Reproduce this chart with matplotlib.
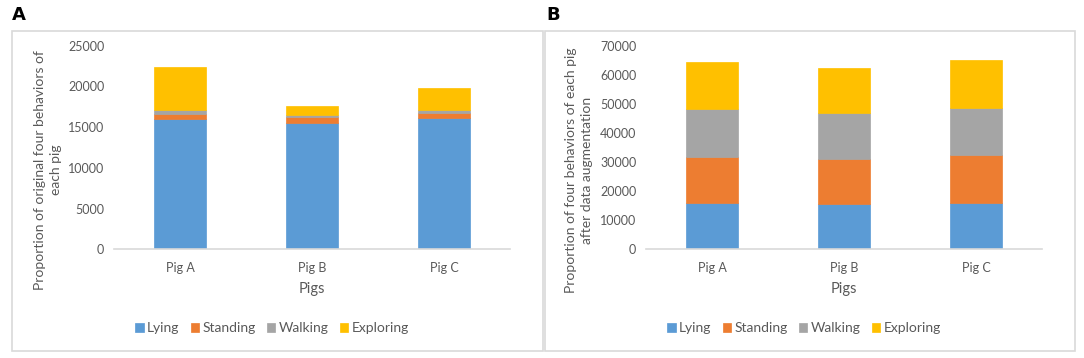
import numpy as np
import matplotlib
matplotlib.use('Agg')
import matplotlib.pyplot as plt
from matplotlib.patches import Rectangle

plt.rcParams["font.family"] = ["Lato", "DejaVu Sans"]

# Data
pigs = ["Pig A", "Pig B", "Pig C"]
behaviors = ["Lying", "Standing", "Walking", "Exploring"]
colors = ["#5B9BD5", "#ED7D31", "#A5A5A5", "#FFC000"]

# (A) original counts
origLying = [16000, 15500, 16150]
origStanding = [650, 800, 550]
origWalking = [420, 250, 400]
origExploring = [5330, 1100, 2700]

# (B) after data augmentation
augLying = [15950, 15550, 15950]
augStanding = [15900, 15500, 16350]
augWalking = [16400, 15700, 16350]
augExploring = [16050, 15450, 16300]

W, H = 1084, 358
fig = plt.figure(figsize=(W/100, H/100), dpi=100)

textCol = "#595959"
gridCol = "#D9D9D9"

def drawPanel(left, series, ymax, ystep, ylabel, ylabelX, letter, letterX, box, legX):
    # outer chart box
    x0, y0, x1, y1 = box
    fig.patches.append(Rectangle((x0/W, 1-y1/H), (x1-x0)/W, (y1-y0)/H,
                                 transform=fig.transFigure, fill=False,
                                 edgecolor=gridCol, linewidth=1.2))
    fig.text(letterX/W, 1-15/H, letter, fontsize=13, fontweight="bold",
             family="DejaVu Sans", va="center", ha="left")

    ax = fig.add_axes([left/W, 1-249.3/H, 396/W, 203.6/H])
    x = np.arange(len(pigs))
    bottom = np.zeros(len(pigs))
    for name, vals, c in zip(behaviors, series, colors):
        ax.bar(x, vals, 0.4, bottom=bottom, color=c, label=name,
               edgecolor=c, linewidth=0.5)
        bottom += np.array(vals)

    ax.set_xlim(-0.5, 2.5)
    ax.set_ylim(0, ymax)
    ax.set_yticks(np.arange(0, ymax+1, ystep))
    ax.set_xticks(x)
    ax.set_xticklabels(pigs)
    for s in ["top", "right", "left"]:
        ax.spines[s].set_visible(False)
    ax.spines["bottom"].set_color(gridCol)
    ax.spines["bottom"].set_linewidth(1.2)
    ax.tick_params(axis="both", length=0, labelsize=9, labelcolor=textCol)
    ax.tick_params(axis="y", pad=7)
    ax.tick_params(axis="x", pad=9)
    ax.set_xlabel("Pigs", fontsize=10.5, color=textCol, labelpad=6)

    fig.text(ylabelX/W, 1-170/H, ylabel, rotation=90, ha="center", va="center",
             fontsize=10, color=textCol, multialignment="center", linespacing=1.45)

    handles, labels = ax.get_legend_handles_labels()
    fig.legend(handles, labels, loc="center", bbox_to_anchor=(legX/W, 1-328/H),
               ncol=4, frameon=False, fontsize=10, labelcolor=textCol,
               handlelength=0.6, handleheight=0.6, handletextpad=0.25,
               columnspacing=0.8)
    return ax

drawPanel(114, [origLying, origStanding, origWalking, origExploring], 25000, 5000,
          "Proportion of original four behaviors of\neach pig", 48, "A", 12,
          (12, 31, 543, 351), 272)
drawPanel(646, [augLying, augStanding, augWalking, augExploring], 70000, 10000,
          "Proportion of four behaviors of each pig\nafter data augmentation", 579, "B", 546,
          (545, 31, 1075, 351), 804)

plt.savefig("out.png", dpi=100)
plt.close()
